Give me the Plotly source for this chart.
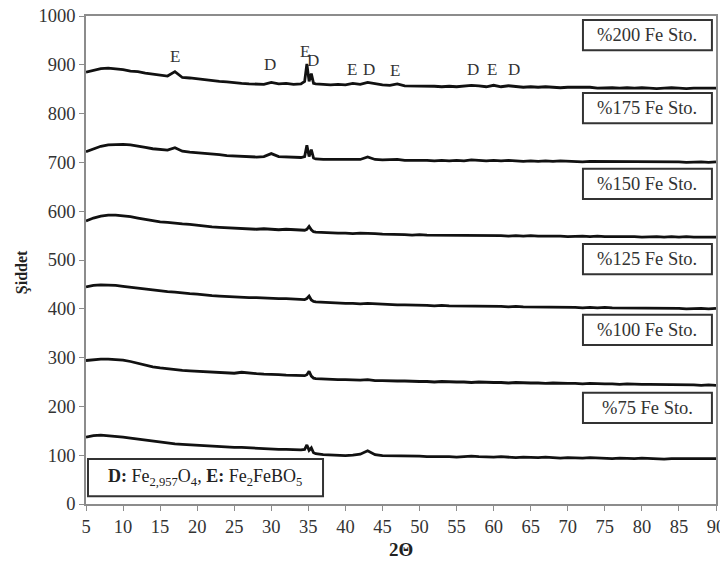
import plotly.graph_objects as go

# Common 2-theta sampling positions
two_theta = list(range(5, 35)) + [34.5, 34.8, 35.1, 35.4, 35.7] + list(range(36, 91))

fe200 = [885, 889, 892, 893, 892, 890, 887, 886, 883, 881, 879, 877, 886, 874, 873, 871, 869, 868, 866, 865,
         863, 862, 861, 860, 860, 864, 861, 862, 860, 861,
         866, 902, 866, 882, 862,
         861, 860, 859, 860, 859, 862, 860, 864, 861, 859, 858, 861, 857, 857, 856, 857, 856, 855, 856, 855,
         856, 858, 857, 855, 858, 855, 857, 855, 854, 855, 854, 855, 854, 853, 854, 854, 853, 854, 852, 853,
         853, 852, 853, 852, 853, 852, 851, 852, 853, 852, 851, 852, 852, 853, 852]
fe175 = [722, 728, 733, 736, 737, 737, 736, 734, 731, 728, 726, 725, 730, 723, 721, 720, 719, 717, 716, 714,
         713, 712, 711, 711, 712, 718, 712, 711, 710, 710,
         712, 735, 712, 726, 709,
         707, 706, 706, 705, 706, 705, 706, 711, 706, 705, 705, 706, 704, 704, 705, 704, 703, 704, 703, 704,
         703, 705, 704, 703, 704, 703, 704, 703, 702, 703, 702, 703, 702, 703, 702, 702, 701, 702, 702, 701,
         702, 701, 702, 701, 701, 702, 701, 701, 702, 701, 700, 701, 701, 700, 701]
fe150 = [580, 586, 590, 592, 592, 591, 589, 586, 583, 580, 578, 577, 575, 574, 573, 571, 570, 568, 567, 566,
         565, 565, 564, 563, 564, 563, 562, 563, 562, 561,
         561, 563, 569, 562, 558,
         557, 556, 556, 555, 555, 554, 555, 555, 554, 553, 553, 552, 552, 551, 552, 551, 551, 550, 551, 551,
         550, 551, 550, 551, 550, 550, 549, 550, 549, 550, 549, 549, 550, 549, 548, 549, 549, 548, 549, 548,
         548, 549, 548, 548, 547, 548, 548, 547, 548, 547, 548, 547, 547, 548, 547]
fe125 = [445, 448, 449, 449, 448, 446, 444, 442, 440, 438, 436, 435, 434, 432, 431, 430, 428, 427, 426, 425,
         425, 424, 423, 423, 422, 422, 421, 421, 420, 419,
         419, 421, 426, 418, 415,
         414, 413, 412, 412, 411, 411, 410, 411, 410, 409, 409, 408, 408, 408, 407, 407, 406, 407, 406, 406,
         405, 406, 405, 406, 405, 405, 404, 405, 404, 404, 403, 404, 403, 404, 403, 403, 402, 403, 402, 403,
         402, 402, 401, 402, 401, 402, 401, 401, 402, 401, 400, 401, 401, 400, 401]
fe100 = [294, 296, 297, 297, 296, 295, 292, 288, 284, 281, 279, 277, 276, 274, 273, 272, 271, 270, 269, 269,
         268, 270, 268, 267, 266, 266, 265, 264, 264, 263,
         263, 265, 272, 262, 258,
         257, 256, 256, 255, 255, 254, 254, 255, 253, 253, 252, 252, 252, 251, 251, 251, 250, 251, 250, 250,
         250, 249, 250, 249, 249, 249, 248, 249, 248, 248, 248, 247, 248, 247, 247, 247, 246, 247, 246, 246,
         246, 245, 246, 245, 245, 245, 245, 244, 245, 244, 244, 244, 243, 244, 243]
fe75 = [137, 140, 141, 140, 139, 137, 135, 133, 131, 128, 126, 124, 123, 122, 121, 120, 119, 118, 117, 117,
        116, 116, 115, 114, 114, 113, 112, 112, 111, 111,
        112, 121, 110, 115, 105,
        103, 101, 100, 99, 99, 100, 102, 109, 101, 99, 99, 98, 98, 99, 98, 97, 97, 98, 97, 96,
        97, 98, 97, 96, 96, 97, 96, 95, 96, 95, 95, 96, 95, 94, 95, 94, 94, 95, 94, 94,
        93, 94, 93, 93, 94, 93, 93, 92, 93, 93, 92, 93, 92, 92, 93]

series = [fe200, fe175, fe150, fe125, fe100, fe75]
series_labels = ["%200 Fe Sto.", "%175 Fe Sto.", "%150 Fe Sto.", "%125 Fe Sto.", "%100 Fe Sto.", "%75 Fe Sto."]
label_y = [961, 811, 656, 502, 357, 197]

peak_letters = ["E", "D", "E", "D", "E", "D", "E", "D", "E", "D"]
peak_x = [17.0, 29.8, 34.5, 35.6, 40.9, 43.2, 46.7, 57.2, 59.8, 62.7]
peak_y = [916, 900, 928, 908, 891, 891, 889, 891, 891, 891]

x_ticks = list(range(5, 91, 5))
y_ticks = list(range(0, 1001, 100))

FONT = "Liberation Serif, Times New Roman, serif"

fig = go.Figure()
for s, name in zip(series, series_labels):
    fig.add_trace(go.Scatter(x=two_theta, y=s, mode="lines", name=name,
                             line=dict(color="#111111", width=2.8), showlegend=False))

shapes = []
annotations = []
for lab, yc in zip(series_labels, label_y):
    shapes.append(dict(type="rect", xref="x", yref="y", x0=72.05, x1=89.45, y0=yc - 31, y1=yc + 31,
                       line=dict(color="#333333", width=2), fillcolor="white", layer="above"))
    annotations.append(dict(x=80.75, y=yc, xref="x", yref="y", text=lab, showarrow=False,
                            font=dict(family=FONT, size=18.5, color="#333333")))

for t, px, py in zip(peak_letters, peak_x, peak_y):
    annotations.append(dict(x=px, y=py, xref="x", yref="y", text=t, showarrow=False,
                            font=dict(family=FONT, size=17, color="#333333")))

shapes.append(dict(type="rect", xref="x", yref="y", x0=5.27, x1=36.98, y0=16, y1=92,
                   line=dict(color="#333333", width=2), fillcolor="white", layer="above"))
annotations.append(dict(x=21.1, y=54, xref="x", yref="y",
                        text="<b>D:</b> Fe<sub>2,957</sub>O<sub>4</sub>, <b>E:</b> Fe<sub>2</sub>FeBO<sub>5</sub>",
                        showarrow=False, font=dict(family=FONT, size=18, color="#222222")))

# axis titles
annotations.append(dict(x=0, y=0.475, xref="paper", yref="paper", xanchor="center", yanchor="middle",
                        xshift=-64, textangle=-90, text="<b>Şiddet</b>", showarrow=False,
                        font=dict(family=FONT, size=16, color="#222222")))
annotations.append(dict(x=0.5, y=-0.094, xref="paper", yref="paper", xanchor="center", yanchor="middle",
                        text="<b>2Θ</b>", showarrow=False,
                        font=dict(family=FONT, size=19, color="#222222")))

# page body has an 8px margin, so the figure is sized/offset to compensate
fig.update_layout(
    width=720, height=560,
    margin=dict(l=78, r=12, t=8, b=64),
    paper_bgcolor="white", plot_bgcolor="white",
    font=dict(family=FONT, size=18.5, color="#333333"),
    shapes=shapes, annotations=annotations,
)
fig.update_xaxes(range=[5, 90], tickvals=x_ticks, ticktext=[str(v) for v in x_ticks], automargin=False,
                 showgrid=False, zeroline=False, showline=True, linecolor="#8c8c8c", linewidth=1.5,
                 mirror=True, ticks="outside", ticklen=5, tickcolor="#8c8c8c", ticklabeloverflow="allow",
                 tickfont=dict(family=FONT, size=18.5, color="#333333"))
fig.update_yaxes(range=[0, 1000], tickvals=y_ticks, ticktext=[str(v) for v in y_ticks], automargin=False,
                 showgrid=False, zeroline=False, showline=True, linecolor="#8c8c8c", linewidth=1.5,
                 mirror=True, ticks="outside", ticklen=5, tickcolor="#8c8c8c", ticklabeloverflow="allow",
                 tickfont=dict(family=FONT, size=18.5, color="#333333"))

fig.write_html("out.html")
